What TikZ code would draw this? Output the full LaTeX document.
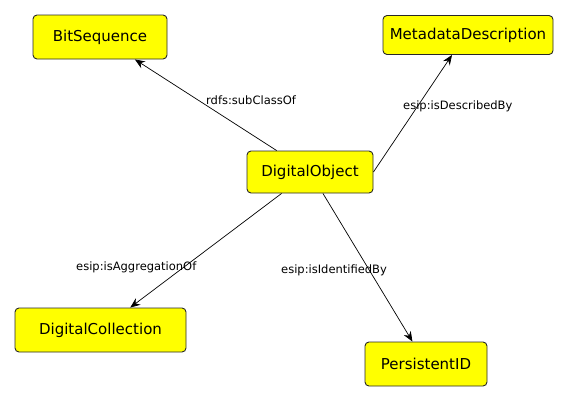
\documentclass[tikz,border=0pt]{standalone}
\usepackage{fontspec}
\setmainfont{DejaVu Sans}
\usetikzlibrary{arrows.meta}
\definecolor{boxyellow}{RGB}{255,255,0}
\definecolor{boxborder}{RGB}{40,40,40}
\tikzset{
  classbox/.style={draw=boxborder, line width=0.9pt, fill=boxyellow, rounded corners=4pt,
    inner sep=0pt, font=\fontsize{15}{18}\selectfont, align=center},
  rel/.style={draw=black, line width=0.7pt, -{Stealth[length=10pt,width=8pt]}},
  rellabel/.style={inner sep=0pt, anchor=base west, font=\fontsize{11.5}{14}\selectfont}
}
\begin{document}
\begin{tikzpicture}[x=1pt,y=-1pt]
\useasboundingbox[fill=white] (0,0) rectangle (569,402);
\node[classbox, minimum width=134pt, minimum height=44pt] (BS) at (100,37) {BitSequence};
\node[classbox, minimum width=170pt, minimum height=39pt] (MD) at (468,35) {MetadataDescription};
\node[classbox, minimum width=126pt, minimum height=42pt] (DO) at (310,172) {DigitalObject};
\node[classbox, minimum width=171pt, minimum height=44pt] (DC) at (100.5,330) {DigitalCollection};
\node[classbox, minimum width=122pt, minimum height=44pt] (PID) at (426,364) {PersistentID};

\draw[rel] (DO) -- (BS);
\draw[rel] (DO.east) -- ([xshift=-16pt]MD.south);
\draw[rel] (DO) -- (DC);
\draw[rel] (DO) -- (PID);

\node[rellabel] (l1) at (206,104) {rdfs:subClassOf};
\node[rellabel] (l2) at (403,109) {esip:isDescribedBy};
\node[rellabel] (l3) at (76,270) {esip:isAggregationOf};
\node[rellabel] (l4) at (281,273) {esip:isIdentifiedBy};
\end{tikzpicture}
\end{document}
